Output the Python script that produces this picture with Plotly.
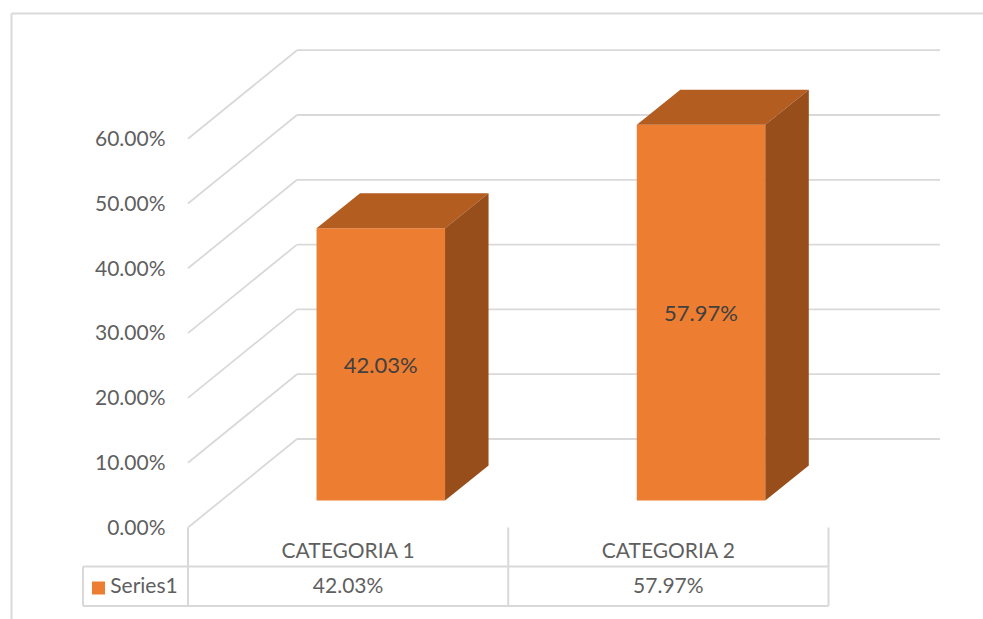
import plotly.graph_objects as go

categories = ["CATEGORIA 1", "CATEGORIA 2"]
series_name = "Series1"
series_values = [42.03, 57.97]
tick_values = [0, 10, 20, 30, 40, 50, 60]
tick_labels = ["0.00%", "10.00%", "20.00%", "30.00%", "40.00%", "50.00%", "60.00%"]

W, H = 983, 619
PX_X = 320.25          # pixels per category
PX_Y = 6.48            # pixels per percentage point
X0_PX, Y0_PX = 188.0, 527.5   # where category 0 / value 0 sit on the front plane


def px_x(p):
    return (p - X0_PX) / PX_X


def px_y(p):
    return (Y0_PX - p) / PX_Y


FONT = "Lato, 'Open Sans', sans-serif"
GRID = "#D9D9D9"
TEXT = "#5F5F5F"
FRONT, TOP, SIDE = "#ED7D31", "#B35D20", "#974E1A"

WALL_DX = 109 / PX_X   # depth of the chart box
WALL_DY = 88.5 / PX_Y
BAR_DX = 43.5 / PX_X   # depth of a bar
BAR_DY = 35 / PX_Y
BAR_W = 128.5 / PX_X
BAR_SHIFT = 0.102      # bars sit off the category centre
BASE = px_y(500.5)     # bars stand on the middle of the floor
WALL_RIGHT = px_x(940)

shapes = []


def line(x0, y0, x1, y1, width=1.8):
    shapes.append(dict(type="line", xref="x", yref="y", x0=x0, y0=y0, x1=x1, y1=y1,
                       layer="below", line=dict(color=GRID, width=width)))


# floor + walls
for t in tick_values:
    line(0, t, WALL_DX, t + WALL_DY)
    line(WALL_DX, t + WALL_DY, WALL_RIGHT, t + WALL_DY)

# data table grid
table_top, row_mid, row_bot = px_y(Y0_PX), px_y(566.5), px_y(606)
table_left = px_x(83)
n = len(categories)
for i in range(n + 1):
    line(i, table_top, i, row_bot, 2)
line(table_left, row_mid, n, row_mid, 2)
line(table_left, row_bot, n, row_bot, 2)
line(table_left, row_mid, table_left, row_bot, 2)

# outer frame
shapes.append(dict(type="line", xref="paper", yref="paper", x0=11.5 / W, x1=1, y0=1 - 13.5 / H, y1=1 - 13.5 / H,
                   layer="below", line=dict(color=GRID, width=2)))
shapes.append(dict(type="line", xref="paper", yref="paper", x0=11.5 / W, x1=11.5 / W, y0=0, y1=1 - 13.5 / H,
                   layer="below", line=dict(color=GRID, width=2)))

fig = go.Figure()
centers = [i + 0.5 + BAR_SHIFT for i in range(n)]

fig.add_trace(go.Bar(
    x=centers, y=series_values, base=[BASE] * n, width=BAR_W,
    marker=dict(color=FRONT, line=dict(width=0)),
    text=[f"{v:.2f}%" for v in series_values],
    textposition="inside", insidetextanchor="middle", textangle=0,
    textfont=dict(family=FONT, size=22, color="#404040"),
    hoverinfo="skip", showlegend=False,
))

for c, v in zip(centers, series_values):
    left, right = c - BAR_W / 2, c + BAR_W / 2
    top = BASE + v
    fig.add_trace(go.Scatter(
        x=[left, right, right + BAR_DX, left + BAR_DX, left],
        y=[top, top, top + BAR_DY, top + BAR_DY, top],
        mode="none", fill="toself", fillcolor=TOP, hoverinfo="skip", showlegend=False))
    fig.add_trace(go.Scatter(
        x=[right, right + BAR_DX, right + BAR_DX, right, right],
        y=[top, top + BAR_DY, BASE + BAR_DY, BASE, top],
        mode="none", fill="toself", fillcolor=SIDE, hoverinfo="skip", showlegend=False))

# data table text
label_y = px_y(552.5)
value_y = px_y(588)
fig.add_trace(go.Scatter(
    x=[i + 0.5 for i in range(n)], y=[label_y] * n, mode="text", text=categories,
    textfont=dict(family=FONT, size=21, color=TEXT), hoverinfo="skip", showlegend=False))
fig.add_trace(go.Scatter(
    x=[i + 0.5 for i in range(n)], y=[value_y] * n, mode="text", text=[f"{v:.2f}%" for v in series_values],
    textfont=dict(family=FONT, size=21, color=TEXT), hoverinfo="skip", showlegend=False))
fig.add_trace(go.Scatter(
    x=[px_x(98.5)], y=[value_y], mode="markers+text", text=["\u2009" + series_name], textposition="middle right",
    marker=dict(symbol="square", size=13, color=FRONT),
    textfont=dict(family=FONT, size=21, color=TEXT), hoverinfo="skip", showlegend=False))

fig.update_layout(
    width=W, height=H, margin=dict(l=0, r=0, t=0, b=0),
    paper_bgcolor="white", plot_bgcolor="white",
    showlegend=False, shapes=shapes, barmode="overlay",
    xaxis=dict(range=[px_x(0), px_x(W)], domain=[0, 1], visible=False, fixedrange=True),
    yaxis=dict(range=[px_y(H), px_y(0)], domain=[0, 1], anchor="free", position=165.5 / W,
               tickmode="array", tickvals=tick_values, ticktext=tick_labels,
               showgrid=False, zeroline=False, showline=False, ticks="",
               ticklabelstandoff=0,
               tickfont=dict(family=FONT, size=21, color=TEXT), fixedrange=True),
)

fig.write_html("out.html", config={"displayModeBar": False},
               post_script="document.body.style.margin='0';document.body.style.overflow='hidden';")
